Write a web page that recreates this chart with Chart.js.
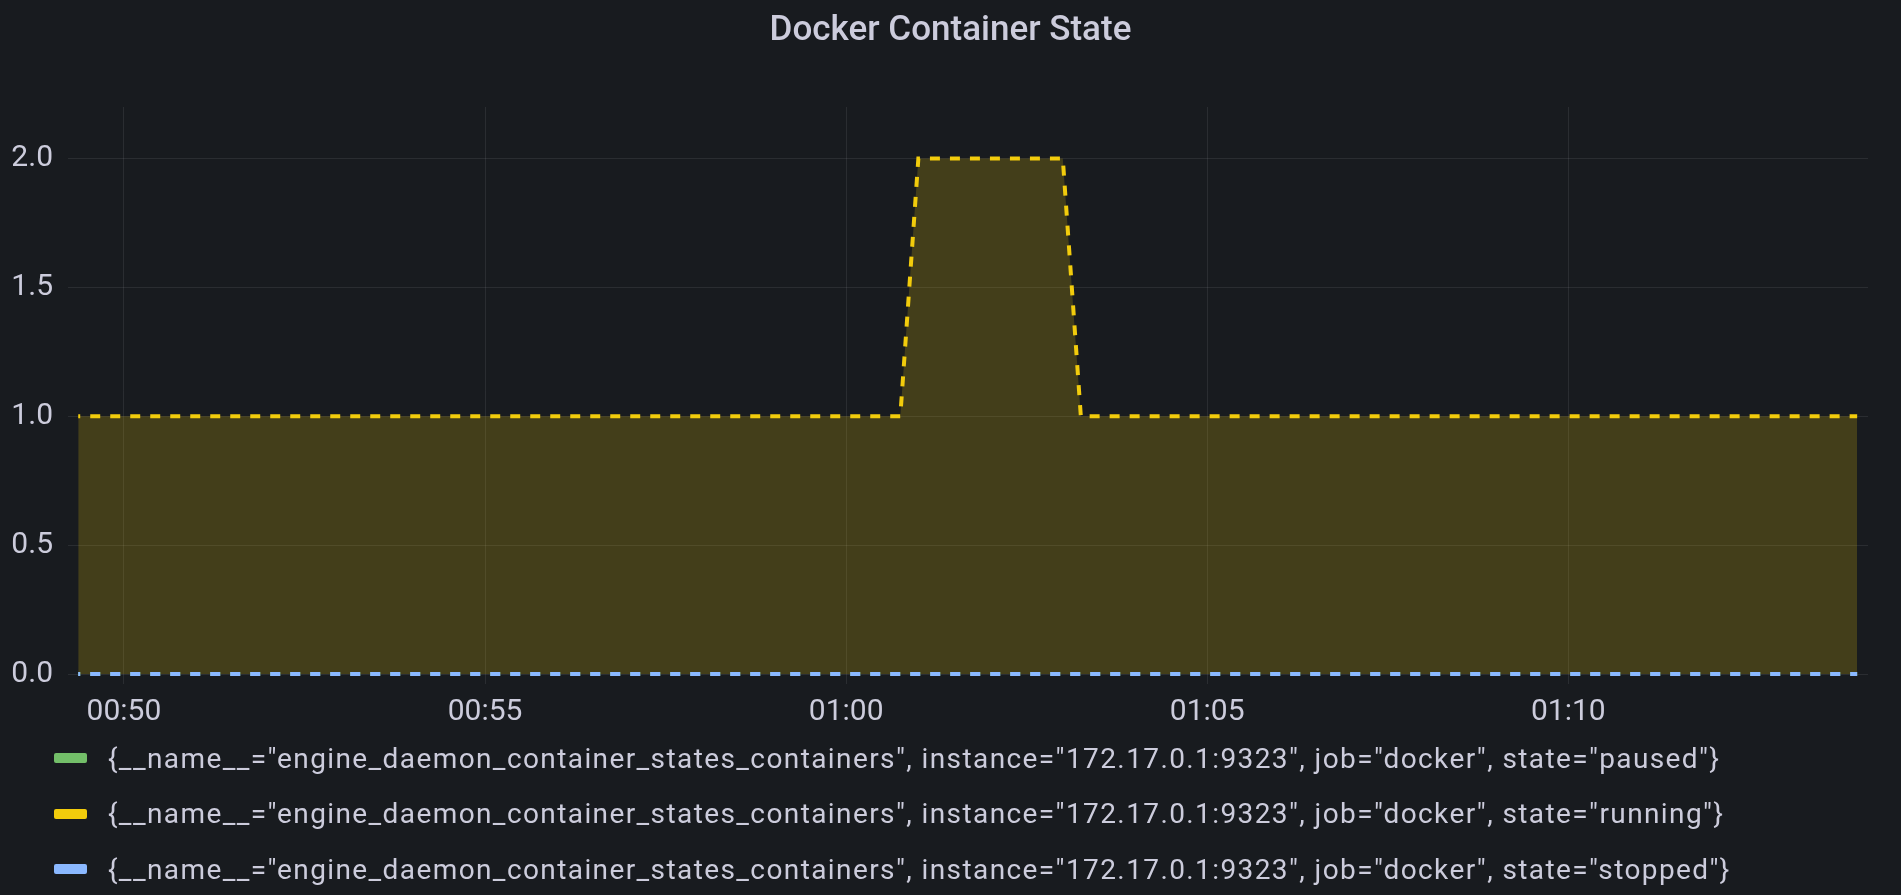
<!DOCTYPE html>
<html>
<head>
<meta charset="utf-8">
<script src="https://cdn.jsdelivr.net/npm/chart.js@4/dist/chart.umd.min.js"></script>
<style>
  html, body { margin: 0; padding: 0; background: #181b1f; }
  #wrap { position: relative; width: 1901px; height: 895px; overflow: hidden; background: #181b1f; }
  #c { position: absolute; left: 0; top: 0; }
  .lg { position: absolute; left: 0; height: 40px; display: flex; align-items: center; font-family: Roboto, sans-serif; font-size: 28px; letter-spacing: 1.4px; color: #ccccdc; white-space: nowrap; }
  .sw { width: 33px; height: 10px; border-radius: 2px; margin-left: 54px; margin-right: 21px; }
</style>
</head>
<body>
<div id="wrap">
  <canvas id="c" width="1901" height="895"></canvas>
  <div id="legend"></div>
</div>
<script>
// ---- data ----
const chartTitle = 'Docker Container State';
const sampleTimes = ['00:49:22', '01:00:45', '01:01:00', '01:03:00', '01:03:15', '01:14:00'];
const pausedValues  = [0, 0, 0, 0, 0, 0];
const runningValues = [1, 1, 2, 2, 1, 1];
const stoppedValues = [0, 0, 0, 0, 0, 0];
const seriesNames = [
  '{__name__="engine_daemon_container_states_containers", instance="172.17.0.1:9323", job="docker", state="paused"}',
  '{__name__="engine_daemon_container_states_containers", instance="172.17.0.1:9323", job="docker", state="running"}',
  '{__name__="engine_daemon_container_states_containers", instance="172.17.0.1:9323", job="docker", state="stopped"}'
];
const seriesColors = ['#73BF69', '#F2CC0C', '#8AB8FF'];
const xTickLabels = ['00:50', '00:55', '01:00', '01:05', '01:10'];
const yTickValues = [0, 0.5, 1, 1.5, 2];
const yTickLabels = ['0.0', '0.5', '1.0', '1.5', '2.0'];
const xRange = ['00:49:13.5', '01:14:09'];
const yRange = [0, 2.2];

// ---- helpers ----
function toMin(t) {
  const p = t.split(':').map(Number);
  return p[0] * 60 + p[1] + (p[2] || 0) / 60;
}
function hexA(hex, a) {
  const n = parseInt(hex.slice(1), 16);
  return `rgba(${(n >> 16) & 255},${(n >> 8) & 255},${n & 255},${a})`;
}
const xTickValues = xTickLabels.map(toMin);
const allValues = [pausedValues, runningValues, stoppedValues];
const orders = [2, 1, 0];

const datasets = allValues.map((vals, i) => ({
  label: seriesNames[i],
  data: sampleTimes.map((t, k) => ({ x: toMin(t), y: vals[k] })),
  borderColor: seriesColors[i],
  backgroundColor: hexA(seriesColors[i], 0.2),
  borderWidth: 4,
  borderDash: [10, 10],
  borderDashOffset: 8,
  pointRadius: 0,
  tension: 0,
  fill: 'origin',
  clip: 10,
  order: orders[i]
}));

const gridColor = 'rgba(204,204,220,0.1)';
const textColor = '#ccccdc';

new Chart(document.getElementById('c'), {
  type: 'line',
  data: { datasets },
  options: {
    responsive: false,
    animation: false,
    layout: { padding: { left: 0, right: 0, top: 0, bottom: 155 } },
    plugins: {
      legend: { display: false },
      tooltip: { enabled: false },
      title: {
        display: true,
        text: chartTitle,
        color: textColor,
        font: { family: 'Roboto', size: 35, weight: '500' },
        padding: { top: 10, bottom: 55 }
      }
    },
    scales: {
      x: {
        type: 'linear',
        min: toMin(xRange[0]),
        max: toMin(xRange[1]),
        border: { display: false },
        grid: { color: gridColor, lineWidth: 1, drawTicks: true, tickLength: 10, tickColor: gridColor },
        afterBuildTicks: (s) => { s.ticks = xTickValues.map(v => ({ value: v })); },
        ticks: {
          color: textColor,
          font: { family: 'Roboto', size: 30 },
          padding: 10,
          maxRotation: 0,
          autoSkip: false,
          callback: (v) => { const i = xTickValues.findIndex(t => Math.abs(t - v) < 1e-6); return i >= 0 ? xTickLabels[i] : ''; }
        }
      },
      y: {
        type: 'linear',
        min: yRange[0],
        max: yRange[1],
        border: { display: false },
        grid: { color: gridColor, lineWidth: 1, drawTicks: false },
        afterBuildTicks: (s) => { s.ticks = yTickValues.map(v => ({ value: v })); },
        afterFit: (s) => { s.width = 68; },
        ticks: {
          color: textColor,
          font: { family: 'Roboto', size: 30 },
          padding: 15,
          autoSkip: false,
          callback: (v) => { const i = yTickValues.findIndex(t => Math.abs(t - v) < 1e-9); return i >= 0 ? yTickLabels[i] : ''; }
        }
      },
      yRightGutter: {
        type: 'linear',
        position: 'right',
        display: true,
        border: { display: false },
        grid: { display: false, drawTicks: false },
        ticks: { display: false },
        afterFit: (s) => { s.width = 33; }
      }
    }
  }
});

// ---- legend (text) ----
const rowCenters = [758, 813.5, 869];
const lg = document.getElementById('legend');
seriesNames.forEach((name, i) => {
  const row = document.createElement('div');
  row.className = 'lg';
  row.style.top = (rowCenters[i] - 20) + 'px';
  const sw = document.createElement('div');
  sw.className = 'sw';
  sw.style.background = seriesColors[i];
  const tx = document.createElement('span');
  tx.textContent = name;
  row.appendChild(sw);
  row.appendChild(tx);
  lg.appendChild(row);
});
</script>
</body>
</html>
